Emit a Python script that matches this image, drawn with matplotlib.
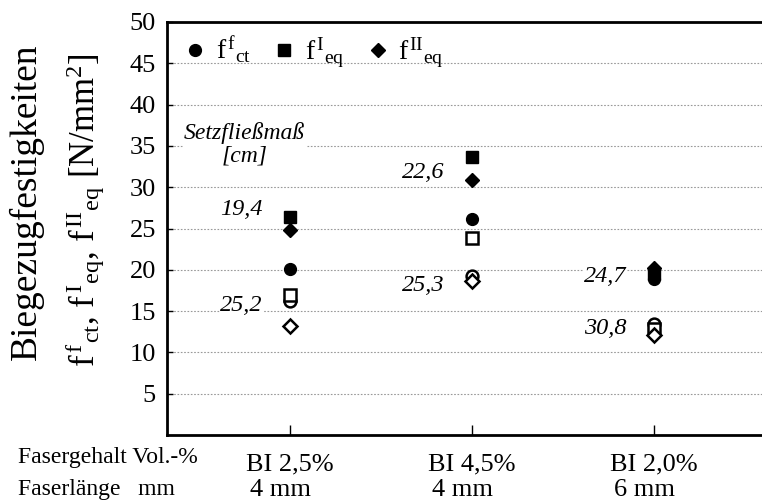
import numpy as np
import matplotlib.pyplot as plt
from matplotlib.lines import Line2D

plt.rcParams['font.family'] = ['Liberation Serif', 'DejaVu Serif']
plt.rcParams['mathtext.fontset'] = 'custom'
plt.rcParams['mathtext.rm'] = 'Liberation Serif'
plt.rcParams['mathtext.it'] = 'Liberation Serif:italic'

# Mixes: fibre content and fibre length
fasergehalt = ['BI 2,5%', 'BI 4,5%', 'BI 2,0%']
faserlaenge = ['4 mm', '4 mm', '6 mm']

# Slump flow [cm] for the two test series (filled / open markers)
setzfliess_a = ['19,4', '22,6', '24,7']
setzfliess_b = ['25,2', '25,3', '30,8']

# Flexural strengths [N/mm^2], series a (filled markers)
fct_a = [20.1, 26.1, 18.9]
feq1_a = [26.4, 33.7, 19.5]
feq2_a = [24.8, 30.9, 20.2]

# Flexural strengths [N/mm^2], series b (open markers)
fct_b = [16.2, 19.3, 13.4]
feq1_b = [17.0, 23.8, 12.8]
feq2_b = [13.2, 18.6, 12.1]

# where the slump-flow labels sit (y in N/mm^2)
label_y_a = [27.3, 31.8, 19.2]
label_y_b = [15.7, 18.1, 12.9]

fig = plt.figure(figsize=(7.62, 5.04), dpi=100)
ax = fig.add_axes([167 / 762, 69 / 504, 1 - 167 / 762, 413 / 504])

x = np.arange(len(fasergehalt))
ms = 8.5
ax.plot(x, fct_a, 'o', color='black', ms=ms, zorder=3)
ax.plot(x, feq1_a, 's', color='black', ms=ms, zorder=3)
ax.plot(x, feq2_a, 'D', color='black', ms=ms * 0.8, zorder=3)
ax.plot(x, fct_b, 'o', mfc='white', mec='black', mew=1.8, ms=ms, zorder=3)
ax.plot(x, feq1_b, 's', mfc='white', mec='black', mew=1.8, ms=ms, zorder=3)
ax.plot(x, feq2_b, 'D', mfc='white', mec='black', mew=1.8, ms=ms * 0.8, zorder=3)

for i in x:
    ax.text(i - 0.15, label_y_a[i], setzfliess_a[i], style='italic',
            fontsize=17.5, ha='right', va='center', zorder=4,
            bbox=dict(fc='white', ec='none', pad=0.5))
    ax.text(i - 0.15, label_y_b[i], setzfliess_b[i], style='italic',
            fontsize=17.5, ha='right', va='center', zorder=4,
            bbox=dict(fc='white', ec='none', pad=0.5))

ax.text(-0.25, 35.2, 'Setzfließmaß\n[cm]', style='italic', fontsize=17,
        ha='center', va='center', linespacing=1.15, zorder=4,
        bbox=dict(fc='white', ec='none', pad=0.5))

ax.set_xlim(-0.676, 2.593)
ax.set_ylim(0, 50)
ax.set_yticks(np.arange(5, 51, 5))
ax.set_xticks(x)
ax.set_xticklabels([])
ax.tick_params(axis='y', direction='in', length=4, width=1, labelsize=19, pad=8)
ax.tick_params(axis='x', direction='in', length=7, width=1)
ax.grid(axis='y', linestyle=(0, (1.5, 1.5)), color='#999999', linewidth=0.8)
ax.set_axisbelow(True)
for side in ['left', 'bottom', 'top']:
    ax.spines[side].set_linewidth(2)
ax.spines['right'].set_visible(False)

# category rows below the axis
for i in x:
    ax.text(i, -4.3, fasergehalt[i], fontsize=19, ha='center', va='baseline',
            transform=ax.transData, clip_on=False)
    ax.text(i - 0.05, -7.4, faserlaenge[i], fontsize=19, ha='center', va='baseline',
            transform=ax.transData, clip_on=False)
fig.text(18 / 762, 1 - 463 / 504, 'Fasergehalt Vol.-%', fontsize=17, va='baseline')
fig.text(18 / 762, 1 - 495 / 504, 'Faserlänge   mm', fontsize=17, va='baseline')

# axis titles
fig.text(26 / 762, 1 - 202 / 504, 'Biegezugfestigkeiten', fontsize=27,
         rotation=90, ha='center', va='center')
fig.text(84 / 762, 1 - 210 / 504,
         r'$\mathrm{f}^{\,\mathrm{f}}{}_{\mathrm{ct}}$, $\mathrm{f}^{\,\mathrm{I}}{}_{\mathrm{eq}}$, '
         r'$\mathrm{f}^{\,\mathrm{II}}{}_{\mathrm{eq}}$ [N/mm$^2$]',
         fontsize=25, rotation=90, ha='center', va='center')

handles = [
    Line2D([], [], marker='o', ls='none', color='black', ms=ms),
    Line2D([], [], marker='s', ls='none', color='black', ms=ms),
    Line2D([], [], marker='D', ls='none', color='black', ms=ms * 0.8),
]
labels = [r'$\mathrm{f}^{\,\mathrm{f}}{}_{\mathrm{ct}}$',
          r'$\mathrm{f}^{\,\mathrm{I}}{}_{\mathrm{eq}}$',
          r'$\mathrm{f}^{\,\mathrm{II}}{}_{\mathrm{eq}}$']
ax.legend(handles, labels, loc='upper left', bbox_to_anchor=(0.0, 1.01), ncol=3,
          frameon=False, fontsize=20, handlelength=0.8, handletextpad=0.35,
          columnspacing=0.8, borderaxespad=0.2)

fig.savefig('out.png', dpi=100)
